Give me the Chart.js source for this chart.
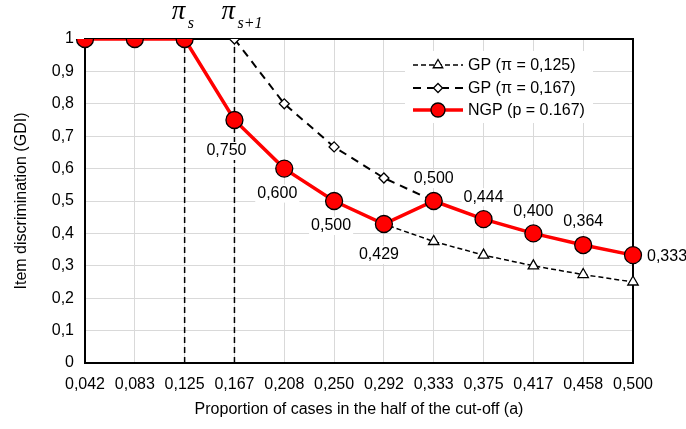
<!DOCTYPE html>
<html>
<head>
<meta charset="utf-8">
<script src="https://cdn.jsdelivr.net/npm/chart.js@4/dist/chart.umd.min.js"></script>
<style>
  body { margin: 0; background: #fff; }
  #wrap { width: 686px; height: 429px; }
</style>
</head>
<body>
<div id="wrap"><canvas id="gdiChart" width="686" height="429"></canvas></div>
<script>
const FONT = '"Liberation Sans", Arial, sans-serif';

// data
const labels = ['0,042', '0,083', '0,125', '0,167', '0,208', '0,250', '0,292', '0,333', '0,375', '0,417', '0,458', '0,500'];
const gp125 = [1, 1, 1, 0.75, 0.6, 0.5, 0.429, 0.375, 0.333, 0.3, 0.273, 0.25];
const gp167 = [null, null, null, 1, 0.8, 0.667, 0.571, 0.5, 0.444, 0.4, 0.364, 0.333];
const ngp = [1, 1, 1, 0.75, 0.6, 0.5, 0.429, 0.5, 0.444, 0.4, 0.364, 0.333];
const ngpLabels = [null, null, null, '0,750', '0,600', '0,500', '0,429', '0,500', '0,444', '0,400', '0,364', '0,333'];
const piMarks = ['0,125', '0,167'];
const piSubs = ['s', 's+1'];
const seriesNames = ['GP (\u03c0 = 0,125)', 'GP (\u03c0 = 0,167)', 'NGP (p = 0.167)'];

// label offsets from the point (dx, dy, align)
const labelPos = [null, null, null,
  [-8, 31, 'center'], [-7, 25, 'center'], [-3, 25, 'center'], [-5, 31, 'center'],
  [0, -22, 'center'], [0, -22, 'center'], [0, -22, 'center'], [0, -23, 'center'],
  [14, 1, 'left']];

const frameBox = {
  id: 'frameBox',
  beforeDatasetsDraw(chart) {
    const { ctx, chartArea: a } = chart;
    ctx.save();
    ctx.strokeStyle = '#000';
    ctx.lineWidth = 2;
    ctx.strokeRect(a.left, a.top, a.right - a.left, a.bottom - a.top);
    ctx.restore();
  }
};

function marker(ctx, ds, x, y, r) {
  ctx.save();
  ctx.fillStyle = ds.pointBackgroundColor;
  ctx.strokeStyle = ds.pointBorderColor;
  ctx.lineWidth = ds.pointBorderWidth;
  Chart.helpers.drawPoint(ctx, { pointStyle: ds.pointStyle, radius: r, borderWidth: ds.pointBorderWidth, rotation: 0 }, x, y);
  ctx.restore();
}

const extras = {
  id: 'extras',
  afterDatasetsDraw(chart) {
    const { ctx } = chart;
    const x = chart.scales.x;
    // pi labels over the dashed lines
    ctx.save();
    ctx.fillStyle = '#000';
    ctx.textBaseline = 'alphabetic';
    ctx.textAlign = 'left';
    piMarks.forEach((m, i) => {
      const px = x.getPixelForValue(labels.indexOf(m));
      ctx.font = 'italic 27px "Liberation Serif", "Times New Roman", serif';
      ctx.fillText('\u03c0', px - 13, 19);
      ctx.font = 'italic 16px "Liberation Serif", "Times New Roman", serif';
      ctx.fillText(piSubs[i], px + 3, 28);
    });

    // value labels of NGP
    const meta = chart.getDatasetMeta(2);
    ctx.font = '16px ' + FONT;
    ctx.textBaseline = 'middle';
    meta.data.forEach((pt, i) => {
      const txt = ngpLabels[i];
      if (!txt) return;
      const [dx, dy, align] = labelPos[i];
      const w = ctx.measureText(txt).width;
      const lx = pt.x + dx;
      const ly = pt.y + dy;
      const left = align === 'left' ? lx : lx - w / 2;
      ctx.fillStyle = '#fff';
      ctx.fillRect(left - 2, ly - 9, w + 4, 18);
      ctx.fillStyle = '#000';
      ctx.textAlign = align;
      ctx.fillText(txt, lx, ly);
    });

    // legend inside the plot
    const a = chart.chartArea;
    const bx = a.right - 228, by = a.top + 12;
    ctx.fillStyle = '#fff';
    ctx.fillRect(bx, by, 188, 72);
    const rows = [by + 14, by + 37, by + 59];
    const sx = bx + 8, ex = bx + 58, cx = (sx + ex) / 2;
    const radii = [5.5, 4.5, 7];
    chart.data.datasets.slice(0, 3).forEach((ds, i) => {
      const y = rows[i];
      ctx.save();
      ctx.strokeStyle = ds.borderColor;
      ctx.lineWidth = ds.borderWidth;
      ctx.setLineDash(ds.borderDash || []);
      ctx.beginPath();
      ctx.moveTo(sx, y);
      ctx.lineTo(ex, y);
      ctx.stroke();
      ctx.restore();
      marker(ctx, ds, cx, y, radii[i]);
      ctx.fillStyle = '#000';
      ctx.textAlign = 'left';
      ctx.textBaseline = 'middle';
      ctx.font = '16px ' + FONT;
      ctx.fillText(seriesNames[i], ex + 5, y + 1);
    });
    ctx.restore();
  }
};

const ctx = document.getElementById('gdiChart').getContext('2d');
new Chart(ctx, {
  type: 'line',
  data: {
    labels: labels,
    datasets: [
      {
        label: seriesNames[0],
        data: gp125,
        borderColor: '#000',
        borderWidth: 1.5,
        borderDash: [5, 3],
        pointStyle: 'triangle',
        pointRadius: 6,
        pointBackgroundColor: '#fff',
        pointBorderColor: '#000',
        pointBorderWidth: 1.3,
        order: 3
      },
      {
        label: seriesNames[1],
        data: gp167,
        borderColor: '#000',
        borderWidth: 2,
        borderDash: [8, 6],
        pointStyle: 'rectRot',
        pointRadius: 5,
        pointBackgroundColor: '#fff',
        pointBorderColor: '#000',
        pointBorderWidth: 1.3,
        order: 2
      },
      {
        label: seriesNames[2],
        data: ngp,
        borderColor: '#ff0000',
        borderWidth: 3.5,
        pointStyle: 'circle',
        pointRadius: 8.5,
        pointBackgroundColor: '#ff0000',
        pointBorderColor: '#000',
        pointBorderWidth: 1.3,
        order: 0
      },
      {
        label: 'pi_s',
        data: [{ x: piMarks[0], y: 0 }, { x: piMarks[0], y: 1 }],
        borderColor: '#000',
        borderWidth: 1.5,
        borderDash: [6, 4],
        pointRadius: 0,
        order: 4
      },
      {
        label: 'pi_s1',
        data: [{ x: piMarks[1], y: 0 }, { x: piMarks[1], y: 1 }],
        borderColor: '#000',
        borderWidth: 1.5,
        borderDash: [6, 4],
        pointRadius: 0,
        order: 4
      }
    ]
  },
  options: {
    responsive: false,
    animation: false,
    layout: { padding: { top: 39, right: 53, left: 0, bottom: 0 } },
    plugins: {
      legend: { display: false },
      tooltip: { enabled: false }
    },
    scales: {
      x: {
        type: 'category',
        offset: false,
        grid: { color: '#d9d9d9', drawTicks: false, offset: false },
        border: { display: false },
        ticks: { color: '#000', font: { family: FONT, size: 16 }, padding: 12, maxRotation: 0, autoSkip: false },
        title: { display: true, text: 'Proportion of cases in the half of the cut-off (a)', color: '#000',
                 font: { family: FONT, size: 16 }, padding: { top: 2, bottom: 10 } },
        afterFit: s => { s.height = 66; }
      },
      y: {
        min: 0,
        max: 1,
        grid: { color: '#d9d9d9', drawTicks: false },
        border: { display: false },
        ticks: {
          stepSize: 0.1,
          color: '#000',
          padding: 11,
          font: { family: FONT, size: 16 },
          callback: v => (v === 0 || v === 1) ? String(v) : v.toFixed(1).replace('.', ',')
        },
        title: { display: true, text: 'Item discrimination (GDI)', color: '#000',
                 font: { family: FONT, size: 16 }, padding: { top: 12, bottom: 4 } },
        afterFit: s => { s.width = 85; }
      }
    }
  },
  plugins: [frameBox, extras]
});
</script>
</body>
</html>
